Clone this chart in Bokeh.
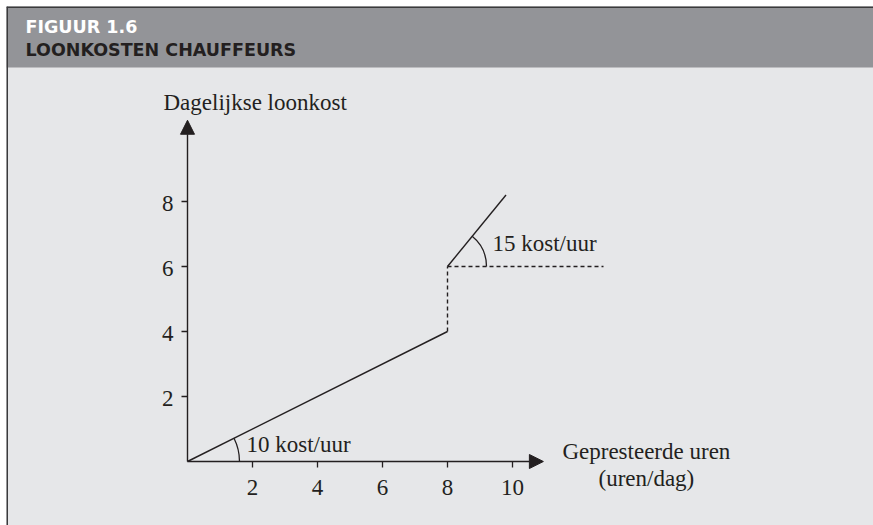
import math
from bokeh.plotting import figure
from bokeh.models import Range1d, BoxAnnotation, Span, Arrow, NormalHead
from bokeh.core.properties import value
from bokeh.embed import file_html
from bokeh.resources import INLINE

# ---- data ----
hour_ticks = [2, 4, 6, 8, 10]
cost_ticks = [2, 4, 6, 8]
low_x = [0, 8]
low_y = [0, 4]
jump_x = [8, 8]
jump_y = [4, 6]
high_x = [8, 9.8]
high_y = [6, 8.2]
ref_x = [8, 12.8]
ref_y = [6, 6]
x_axis_end = 10.95
y_axis_end = 10.5
x_title = ["Gepresteerde uren", "(uren/dag)"]
y_title = "Dagelijkse loonkost"
low_label = "10 kost/uur"
high_label = "15 kost/uur"
fig_number = "FIGUUR 1.6"
fig_title = "LOONKOSTEN CHAUFFEURS"

# ---- layout ----
W, H = 873, 525
ML, MT = 6, 6               # white margin left/top
FW, FH = W - ML, H - MT     # frame size
PX = 32.5                   # pixels per unit
OX, OY = 187 - ML, 461 - MT # origin in frame pixels
def dx(px):
    return (px - OX) / PX
def dy(py):
    return (OY - py) / PX

INK = "#231f20"
SERIF = value("Liberation Serif")
FS = "23px"

p = figure(width=W, height=H, output_backend="svg", toolbar_location=None,
           x_axis_type=None, y_axis_type=None,
           min_border_left=ML, min_border_top=MT, min_border_right=0, min_border_bottom=0,
           x_range=Range1d(dx(0), dx(FW)), y_range=Range1d(dy(FH), dy(0)))
p.background_fill_color = "#e6e7e9"
p.border_fill_color = "white"
p.outline_line_color = None

# header band
p.add_layout(BoxAnnotation(bottom=dy(61), fill_color="#939498", fill_alpha=1.0,
                           line_color=None, level="underlay"))
p.add_layout(Span(location=dx(0.5), dimension="height", line_color="#3a3a3c", line_width=2))
p.add_layout(Span(location=dy(0.5), dimension="width", line_color="#3a3a3c", line_width=2))

p.text(x=[dx(19)], y=[dy(20)], text=[fig_number], text_font=value("DejaVu Sans"),
       text_font_style="bold", text_font_size="17.5px", text_color="#ffffff",
       text_baseline="alphabetic")
p.text(x=[dx(19)], y=[dy(43.5)], text=[fig_title], text_font=value("DejaVu Sans"),
       text_font_style="bold", text_font_size="17.5px", text_color="#231f20",
       text_baseline="alphabetic")

# axes with arrow heads
p.add_layout(Arrow(end=NormalHead(size=14, fill_color=INK, line_color=INK, line_width=1),
                   x_start=0, y_start=0, x_end=x_axis_end, y_end=0,
                   line_color=INK, line_width=1.4))
p.add_layout(Arrow(end=NormalHead(size=14, fill_color=INK, line_color=INK, line_width=1),
                   x_start=0, y_start=0, x_end=0, y_end=y_axis_end,
                   line_color=INK, line_width=1.4))

# ticks
tl = 6 / PX
p.segment(x0=hour_ticks, y0=[0] * len(hour_ticks), x1=hour_ticks,
          y1=[-tl] * len(hour_ticks), line_color=INK, line_width=1.3)
p.segment(x0=[0] * len(cost_ticks), y0=cost_ticks, x1=[-tl] * len(cost_ticks),
          y1=cost_ticks, line_color=INK, line_width=1.3)
p.text(x=hour_ticks, y=[0] * len(hour_ticks), text=[str(v) for v in hour_ticks],
       text_font=SERIF, text_font_size=FS, text_color=INK, text_align="center",
       text_baseline="alphabetic", y_offset=26)
p.text(x=[0] * len(cost_ticks), y=cost_ticks, text=[str(v) for v in cost_ticks],
       text_font=SERIF, text_font_size=FS, text_color=INK, text_align="right",
       text_baseline="alphabetic", x_offset=-14, y_offset=2)

# cost curve
p.line(low_x, low_y, line_color=INK, line_width=1.4)
p.line(jump_x, jump_y, line_color=INK, line_width=1.4, line_dash="4 3")
p.line(high_x, high_y, line_color=INK, line_width=1.4)
p.line(ref_x, ref_y, line_color=INK, line_width=1.4, line_dash="4 3")

# angle arcs
a1 = math.atan2(low_y[1] - low_y[0], low_x[1] - low_x[0])
a2 = math.atan2(high_y[1] - high_y[0], high_x[1] - high_x[0])
p.arc(x=[low_x[0]], y=[low_y[0]], radius=1.6, start_angle=0, end_angle=a1,
      line_color=INK, line_width=1.3)
p.arc(x=[high_x[0]], y=[high_y[0]], radius=1.2, start_angle=0, end_angle=a2,
      line_color=INK, line_width=1.3)

# labels
p.text(x=[low_x[0]], y=[low_y[0]], text=[low_label], text_font=SERIF, text_font_size=FS,
       text_color=INK, text_baseline="alphabetic", x_offset=59, y_offset=-17)
p.text(x=[high_x[0]], y=[high_y[0]], text=[high_label], text_font=SERIF, text_font_size=FS,
       text_color=INK, text_baseline="alphabetic", x_offset=45, y_offset=-23)
p.text(x=[0], y=[y_axis_end], text=[y_title], text_font=SERIF, text_font_size=FS,
       text_color=INK, text_baseline="alphabetic", x_offset=-24, y_offset=-18)
p.text(x=[x_axis_end, x_axis_end], y=[0, 0], text=x_title, text_font=SERIF,
       text_font_size=FS, text_color=INK, text_align="center",
       text_baseline="alphabetic", x_offset=[103, 103], y_offset=[-10, 17])

open("out.html", "w").write(file_html(p, INLINE))
